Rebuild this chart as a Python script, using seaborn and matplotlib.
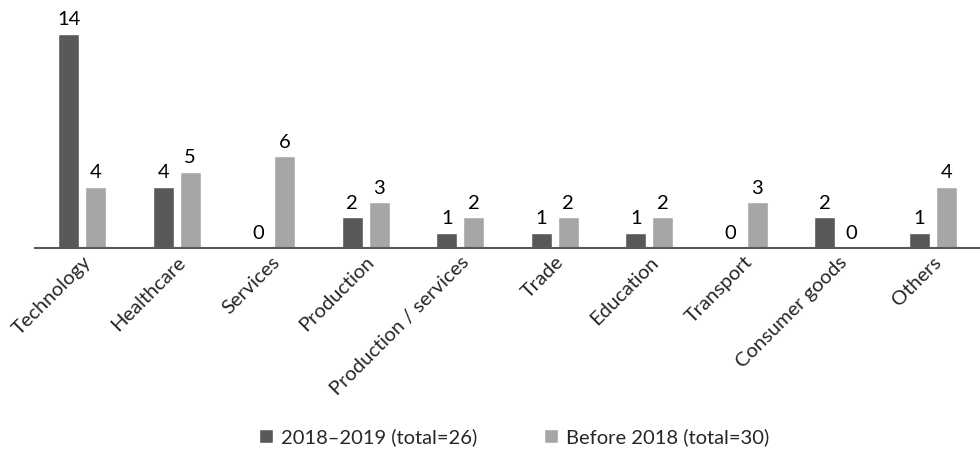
import pandas as pd
import matplotlib.pyplot as plt
import seaborn as sns

# данные с картинки
categories = ['Technology', 'Healthcare', 'Services', 'Production', 'Production / services',
              'Trade', 'Education', 'Transport', 'Consumer goods', 'Others']
recent = [14, 4, 0, 2, 1, 1, 1, 0, 2, 1]
before = [4, 5, 6, 3, 2, 2, 2, 3, 0, 4]
series_names = ['2018\u20132019 (total=26)', 'Before 2018 (total=30)']

data = pd.DataFrame({
    'category': categories * 2,
    'value': recent + before,
    'period': [series_names[0]] * len(categories) + [series_names[1]] * len(categories),
})

sns.set_theme(style='white')
plt.rcParams['font.family'] = ['Lato', 'DejaVu Sans']

fig = plt.figure(figsize=(9.8, 4.5), dpi=100)
ax = fig.add_axes([35 / 980, 202 / 450, 945 / 980, 229.5 / 450])

sns.barplot(data=data, x='category', y='value', hue='period',
            palette=['#595959', '#a6a6a6'], width=0.57, gap=0.22,
            saturation=1, ax=ax)

for cont in ax.containers:
    ax.bar_label(cont, fontsize=14.5, padding=4, color='black')

ax.set_xlim(-0.5, 9.5)
ax.set_ylim(0, 15)
ax.set_xlabel('')
ax.set_ylabel('')
ax.set_yticks([])
for side in ['top', 'right', 'left']:
    ax.spines[side].set_visible(False)
ax.spines['bottom'].set_color('#595959')
ax.spines['bottom'].set_linewidth(1.5)
ax.tick_params(axis='x', length=0, pad=4)
ax.set_xticks(range(len(categories)))
ax.set_xticklabels(categories, rotation=45, ha='right', rotation_mode='anchor', fontsize=14.5)

ax.legend(loc='center', bbox_to_anchor=(479 / 945, -189 / 229.5), ncol=2, frameon=False,
          fontsize=14.5, handlelength=0.7, handleheight=0.7, columnspacing=3.3, handletextpad=0.4)

plt.savefig('out.png', dpi=100)
plt.close()
